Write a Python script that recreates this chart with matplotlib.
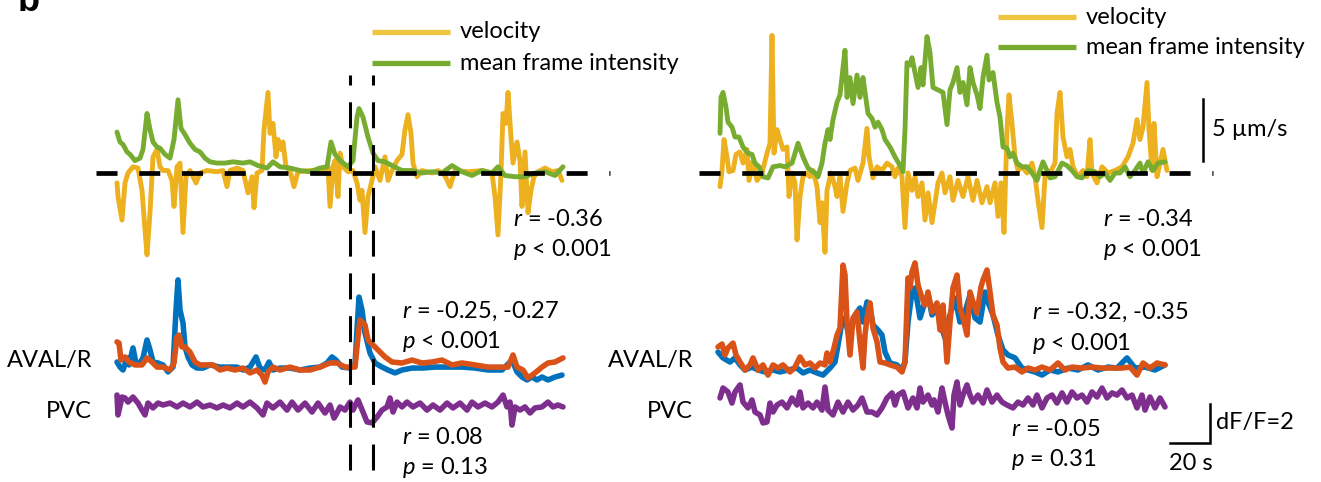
import numpy as np
import matplotlib
matplotlib.use("Agg")
import matplotlib.pyplot as plt

plt.rcParams["font.family"] = ["Lato", "DejaVu Sans"]
plt.rcParams["mathtext.fontset"] = "custom"
plt.rcParams["mathtext.rm"] = "Lato"
plt.rcParams["mathtext.it"] = "Lato:italic"

# ─── data: time in s, velocity in µm/s, intensity in a.u. (same scale), neurons in dF/F ───
# left recording
vel_L_t = [0, 0.5, 2.5, 4, 5.5, 8, 10.5, 12.5, 14, 15,
           16.5, 18, 20, 21.5, 23, 25.5, 27.5, 28.5, 30, 31.5,
           33, 34.5, 36.5, 39.5, 41.5, 45, 50, 53, 55, 56.5,
           60, 63, 65.5, 67.5, 68.5, 70, 72.5, 73.5, 75.5, 76.5,
           78, 79.5, 80.5, 82, 83, 84.5, 86.5, 88.5, 90.5, 96.5,
           103, 105.5, 106.5, 108, 109, 110.5, 111.5, 113, 115.5, 118,
           120, 121.5, 122.5, 124, 125.5, 127.5, 129, 131.5, 134, 135.5,
           137.5, 140, 142.5, 144, 145.5, 147, 148, 150, 152.5, 157.5,
           160.5, 164, 166.5, 169, 175.5, 182.5, 187.5, 189, 190.5, 192,
           193, 194.5, 195.5, 197, 198, 200, 201.5, 202.5, 204, 205.5,
           207, 208.5, 210.5, 214, 217.5, 220.5, 222.5]
vel_L = [-0.8, -1.9, -3.8, -0.8, 0.0, 0.5, 0.4, -1.4, -4.6, -6.6,
         -3.2, 1.3, 1.9, 0.5, 0.2, 0.2, -0.6, -2.7, 0.5, 0.8,
         -4.8, -0.3, 0.2, -0.8, 0.0, 0.2, 0.1, 0.2, -1.1, 0.2,
         0.4, 0.2, -1.6, -0.3, -2.8, 0.0, 0.2, 3.5, 6.5, 3.2,
         4.0, 1.3, 2.7, 1.9, 2.5, 0.5, 0.2, -1.1, 0.1, 0.2,
         0.1, 0.5, -2.7, 0.5, 1.0, -1.9, 1.6, 0.5, 0.1, 0.2,
         -0.8, -2.2, -1.4, -4.8, -1.9, -0.6, 0.5, -0.6, 1.3, -0.6,
         0.2, 1.0, 1.5, 3.5, 4.7, 3.2, 0.8, -0.3, 0.2, 0.0,
         0.2, -0.2, -1.1, 0.2, 0.1, 0.2, 0.0, -1.9, -5.0, 0.0,
         4.8, 4.0, 6.5, 2.9, 0.8, 2.5, 1.0, -2.7, 1.7, -3.2,
         -1.4, -0.3, 0.1, 0.4, 0.1, 0.2, -0.6]

int_L_t = [0, 1.5, 3, 5, 6.5, 9, 11.5, 13, 15, 16.5,
           18, 20, 21.5, 24, 26.5, 28.5, 30.5, 32, 34, 36.5,
           39, 41.5, 44, 46.5, 50, 54, 58, 63, 66.5, 70.5,
           75, 78, 81.5, 86.5, 91.5, 96.5, 101.5, 105, 107, 109,
           111.5, 115.5, 118, 120, 121, 123, 125.5, 128, 130.5, 134,
           137.5, 142.5, 147.5, 152.5, 157.5, 162.5, 167.5, 172.5, 177.5, 182.5,
           187.5, 190.5, 194, 199, 204, 209, 214, 219, 223]
int_L = [3.3, 2.5, 2.3, 1.7, 1.5, 1.0, 1.2, 1.9, 4.8, 3.5,
         2.5, 2.1, 2.0, 1.5, 1.2, 2.7, 5.9, 3.6, 3.1, 2.4,
         1.9, 1.7, 1.2, 0.9, 0.8, 0.8, 0.9, 0.8, 0.9, 0.6,
         0.4, 0.9, 0.5, 0.4, 0.2, 0.1, 0.4, 0.5, 2.5, 1.5,
         1.0, 0.5, 1.0, 4.5, 5.2, 4.5, 2.9, 1.6, 1.0, 0.9,
         0.6, 0.2, 0.2, 0.0, 0.1, 0.0, 0.6, 0.1, -0.2, 0.2,
         0.0, 0.5, -0.2, -0.3, -0.3, 0.0, 0.1, -0.2, 0.5]

aval_L_t = [0, 1.5, 3, 5, 6, 8, 9.5, 11.5, 13, 15,
            16.5, 18, 20.5, 23, 25.5, 28, 29.5, 30.5, 31.5, 33,
            34, 35.5, 37.5, 40, 43, 46.5, 51.5, 56.5, 60, 63,
            66.5, 69.5, 71.5, 74, 76, 78, 81.5, 86.5, 91.5, 96.5,
            101.5, 105, 107.5, 109.5, 112.5, 116.5, 119, 120, 121, 122.5,
            124, 126.5, 129, 132.5, 135.5, 139, 142.5, 147.5, 152.5, 159,
            165.5, 172.5, 179, 185.5, 192.5, 197.5, 200, 202.5, 205, 207.5,
            210, 212.5, 215.5, 219, 222.5]
aval_L = [0.41, 0.15, 0, 0.62, 0.26, 1.13, 0.36, 0.36, 0.62, 1.54,
          1.03, 0.41, 0.36, 0.26, -0.10, 0.15, 3.08, 4.62, 3.08, 2.41,
          1.18, 0.67, 0.26, 0.10, 0.10, 0.26, 0.15, 0.15, 0.15, 0,
          0.15, 0.67, 0.10, 0, 0.41, 0, 0.10, 0.10, 0, 0.10,
          0.15, 0.36, 0.67, 0.51, 0.15, 0.10, 0.26, 2.05, 3.74, 3.08,
          1.90, 0.87, 0.36, 0.15, 0, -0.15, 0, 0.10, 0.10, 0.15,
          0.15, 0.15, 0.10, 0, 0, 0.51, -0.10, -0.36, -0.51, -0.36,
          -0.51, -0.36, -0.51, -0.36, -0.26]

avar_L_t = [0, 1, 2, 4, 6, 9, 12.5, 15, 17.5, 20,
            23, 26.5, 28.5, 30, 31, 32.5, 34, 36.5, 39, 41.5,
            45, 48, 51.5, 55, 59, 63, 66.5, 70, 72.5, 74,
            75.5, 78, 81.5, 86.5, 91.5, 96.5, 101.5, 106.5, 110, 114,
            119, 120.5, 121.5, 124, 125.5, 128, 130.5, 134, 137.5, 142.5,
            147.5, 152.5, 157.5, 162.5, 167.5, 172.5, 179, 185.5, 192.5, 195.5,
            198, 200, 203, 205.5, 209, 212.5, 215.5, 219, 223]
avar_L = [1.44, 1.38, 0.51, 0.67, 0.41, 0.26, 0.26, 0.62, 0.41, 0.15,
          0.15, 0, 0.36, 1.69, 1.79, 1.18, 1.18, 0.92, 0.41, 0.26,
          0.26, 0.26, 0, 0.10, 0, 0.10, -0.15, 0, -0.26, -0.62,
          -0.10, 0.15, 0, 0.15, 0, 0, 0.15, 0.36, 0.36, 0.15,
          0.15, 1.69, 2.56, 2.31, 1.54, 1.28, 1.03, 0.67, 0.41, 0.36,
          0.51, 0.36, 0.41, 0.51, 0.26, 0.36, 0.26, 0.15, 0.15, 0.15,
          0.77, 0.15, 0, -0.41, -0.15, 0.15, 0.36, 0.41, 0.62]

pvc_L_t = [0, 0.5, 2.5, 4, 5.5, 8, 10.5, 12.5, 14, 15.5,
           18, 20.5, 23, 26.5, 30, 33, 36.5, 40, 43, 46.5,
           50, 53, 56.5, 60, 63, 66.5, 70, 73, 75, 78,
           81.5, 85, 87.5, 90.5, 94, 97.5, 100.5, 104, 106.5, 108.5,
           110, 111.5, 114, 116.5, 118, 120.5, 123, 125, 127.5, 130,
           132.5, 135, 136.5, 138, 140, 142.5, 145, 148, 151.5, 155,
           158, 161.5, 165, 168, 171.5, 175, 177.5, 180.5, 184, 187.5,
           190.5, 193, 195, 196.5, 197.5, 199, 201.5, 204, 206.5, 209,
           212.5, 215.5, 218, 220.5, 223]
pvc_L = [0.51, -0.51, 0.41, 0.36, 0.15, 0.41, 0.10, -0.26, -0.51, 0.10,
         -0.15, 0.10, 0, 0.10, -0.10, 0.10, -0.10, 0.15, -0.10, 0,
         -0.15, 0, -0.15, 0.10, -0.10, 0.15, -0.15, -0.51, 0.10, -0.15,
         0.15, -0.26, 0.15, -0.26, 0.10, -0.36, 0.10, -0.41, 0, -0.67,
         -0.41, -0.10, -0.26, 0.15, -0.26, 0.26, -0.36, -0.87, -0.92, -0.62,
         -0.26, -0.10, 0.36, -0.36, 0.15, -0.10, 0.15, -0.10, 0.10, -0.26,
         0, -0.26, 0.10, -0.15, 0.10, -0.26, 0.15, -0.10, 0.10, -0.10,
         0.15, 0.51, -0.10, 0.15, -1.03, -0.10, -0.26, -0.10, -0.41, -0.15,
         -0.10, 0.15, -0.10, 0, -0.10]

# right recording
vel_R_t = [1, 2, 3, 4.5, 5.5, 7.5, 9, 11, 12.5, 14.5,
           15.5, 17.5, 19.5, 22, 24.5, 26, 27, 28, 29.5, 31,
           32.5, 34.5, 35.5, 37, 38.5, 39.5, 41, 42.5, 44.5, 46,
           47.5, 49.5, 51, 52, 53.5, 54.5, 56.5, 58.5, 59.5, 61,
           62.5, 64.5, 66, 68.5, 70, 72.5, 74.5, 75.5, 77.5, 79.5,
           82, 84.5, 87, 88.5, 90, 92, 93.5, 95, 97, 98.5,
           100, 102, 103.5, 105, 107, 108.5, 110, 112, 113.5, 116,
           117.5, 120, 122.5, 125, 127.5, 129.5, 132, 134.5, 136, 138.5,
           140, 141.5, 143, 144.5, 145.5, 147, 148.5, 150, 152, 154.5,
           157, 158.5, 160, 162, 163.5, 166, 168.5, 169.5, 171, 172.5,
           174.5, 176, 177.5, 180, 182.5, 184.5, 186, 187, 189.5, 192,
           195, 198.5, 202, 205, 207.5, 209.5, 211, 212.5, 214.5, 215.5,
           217, 218, 219.5, 221, 222.5, 224.5]
vel_R = [-1.1, 0.2, 2.7, 1.3, 0.1, 0.2, 1.5, 1.7, 0.8, 1.9,
         -0.6, 1.0, -0.6, 0, 1.6, 2.4, 11.1, 1.6, 3.5, 2.7,
         1.9, 2.1, -1.9, 0, -0.8, -5.4, -1.9, -0.3, 0, -0.3,
         0.2, -1.1, -4.0, -2.4, -6.4, -1.4, 0, -1.1, -1.9, -0.3,
         -3.1, -0.8, 0.2, 0.4, -0.6, 0.8, 3.6, 1.3, -0.4, 0.5,
         0.2, 0.8, 0.5, -0.3, 0.4, -0.3, -4.4, 0, -1.4, -0.3,
         -1.9, -0.8, -3.8, -1.6, -4.0, -2.4, -0.8, 0, -1.6, -0.3,
         -2.2, -0.6, -1.9, -0.3, -2.2, -0.6, -2.4, -1.1, -2.4, -0.8,
         -3.5, -0.8, -4.8, 3.5, 6.3, 4.0, 1.3, 0.2, 0.5, 0,
         0.8, -0.3, -2.2, -4.4, -0.3, 0, 0.8, 4.8, 6.5, 2.9,
         1.3, 1.9, 0.5, -0.3, 0.2, -0.3, 2.7, 0, -0.8, 0.5,
         0, 0.2, 0.5, 1.3, 2.4, 4.3, 2.7, 3.7, 7.3, 3.5,
         0.2, 4.0, -0.3, 0.8, 1.9, 0.2]

int_R_t = [1, 1.5, 2.5, 4, 5, 7, 8.5, 10.5, 12.5, 15,
           17, 18.5, 20.5, 22.5, 25, 27.5, 31, 33.5, 37, 40,
           42.5, 45, 48.5, 50, 52, 53.5, 55, 56, 57.5, 59.5,
           61, 62.5, 63.5, 64.5, 66, 67.5, 69.5, 71, 72.5, 73.5,
           75, 77, 78.5, 80, 82, 83.5, 86, 88.5, 91, 92.5,
           93.5, 94.5, 96, 97, 98.5, 100, 101.5, 102.5, 104.5, 106,
           107.5, 110, 112.5, 114.5, 116, 117.5, 119.5, 121, 122.5, 124.5,
           126, 127.5, 129.5, 131, 132.5, 134.5, 135.5, 137.5, 139.5, 141,
           142.5, 144.5, 146, 147.5, 149.5, 152, 154.5, 157, 159.5, 161,
           162.5, 164.5, 166, 168.5, 172, 174.5, 177, 179.5, 182, 185,
           188.5, 191, 193.5, 196, 198.5, 201, 203.5, 206, 208.5, 211,
           212.5, 215, 217.5, 220, 223.5]
int_R = [3.2, 6.1, 6.5, 5.3, 4.1, 3.7, 2.9, 2.9, 2.1, 1.6,
         1.5, 0.8, 0.5, -0.3, -0.4, 0.5, 0.6, 0.5, 0.8, 2.4,
         1.3, 0.4, 0, -0.3, 0.8, 2.4, 3.5, 2.7, 4.3, 5.7,
         6.3, 8.5, 9.9, 6.1, 7.7, 5.6, 7.9, 6.1, 7.7, 6.5,
         4.8, 4.4, 3.7, 4.1, 3.5, 2.7, 2.1, 1.3, 0.6, 0.1,
         3.5, 8.9, 8.7, 9.3, 8.1, 6.9, 8.5, 7.1, 11.0, 9.7,
         6.9, 6.7, 6.5, 3.9, 6.7, 7.3, 8.5, 6.5, 7.3, 5.5,
         8.5, 7.3, 6.3, 5.2, 7.7, 9.5, 7.5, 8.1, 5.7, 4.5,
         2.1, 2.0, 1.3, 1.6, 0.8, 0.5, 0.5, 0, -0.6, 0.2,
         0.9, 0.2, -0.4, -0.3, 0.8, 0.6, 0.2, -0.3, -0.4, 0.2,
         0.1, -0.3, 0, -0.6, 0, 0, 0.5, -0.3, 0.2, 0.8,
         0, 0.9, 0.2, 0.8, 0.9]

aval_R_t = [0, 2.5, 6, 8.5, 11, 13.5, 17, 20, 23.5, 27.5,
            31, 35, 39.5, 42.5, 46, 49.5, 52.5, 56, 58.5, 60,
            62, 63.5, 65, 67, 69.5, 71, 72.5, 74.5, 76, 77.5,
            80, 82, 83.5, 86, 89.5, 92, 93.5, 95, 97, 98.5,
            101, 103.5, 105, 107, 109.5, 111, 113.5, 116, 118.5, 121,
            123.5, 126, 128.5, 131, 133.5, 135, 137.5, 140, 142.5, 145,
            148.5, 152, 155, 158.5, 162, 166, 170, 175, 180, 185,
            190, 195, 199.5, 204.5, 208.5, 213.5, 218.5, 223.5]
aval_R = [0.92, 0.62, 0.41, 0.62, 0.26, 0, 0.15, 0, -0.10, 0,
          -0.10, 0, 0.10, -0.15, 0, -0.15, -0.26, 0.10, 0.41, 1.28,
          2.46, 2.67, 1.95, 2.46, 2.97, 3.18, 2.46, 3.49, 3.18, 2.31,
          2.05, 1.79, 0.92, 0.36, 0.26, 0, 0.41, 2.46, 4.00, 4.21,
          2.67, 3.49, 3.85, 2.82, 3.18, 2.46, 1.64, 2.82, 3.69, 2.46,
          2.97, 3.85, 2.67, 2.46, 4.00, 3.49, 2.82, 1.79, 1.03, 0.77,
          0.62, 0.10, 0, -0.10, -0.26, 0, -0.10, 0.10, 0, 0.26,
          0, 0.15, 0.10, 0.62, 0.10, 0.15, 0, 0.26]

avar_R_t = [0, 2, 3.5, 5, 7.5, 9, 11, 13.5, 16, 17.5,
            20, 22.5, 25, 27.5, 30, 32.5, 36, 38.5, 41, 43.5,
            46, 48.5, 51, 53.5, 54.5, 56, 58, 59.5, 61, 62.5,
            63.5, 64.5, 66, 67.5, 69.5, 71, 72.5, 73.5, 74.5, 76,
            77.5, 79.5, 81, 83.5, 86, 89.5, 92, 93.5, 95, 96,
            97, 98.5, 100, 102, 103.5, 105, 107, 109.5, 111, 112.5,
            114.5, 116, 117.5, 119.5, 121, 122.5, 124.5, 126, 127.5, 129.5,
            131.5, 132.5, 134.5, 136, 137.5, 139.5, 141, 142.5, 145, 148.5,
            152, 155, 158.5, 162, 166, 170, 173.5, 177, 182, 187,
            192, 197, 202, 206, 209.5, 212.5, 216, 219.5, 223.5]
avar_R = [1.18, 1.33, 0.77, 1.13, 1.38, 0.77, 0.41, 0, 0.26, 0.62,
          0, 0.26, -0.26, 0.26, 0.10, 0.26, -0.10, 0.15, 0.67, 0.26,
          0.36, 0.10, 0.36, 0.26, 0.87, 0.41, 1.13, 1.79, 2.15, 5.38,
          4.87, 2.46, 0.77, 2.67, 2.97, 1.44, 0.10, 1.79, 2.67, 3.44,
          2.15, 1.44, 0.41, 0.36, 0.26, 0.15, -0.10, 0.41, 4.72, 4.21,
          5.03, 5.49, 4.36, 3.69, 3.33, 4.00, 2.97, 3.44, 2.05, 3.33,
          0.41, 2.46, 4.21, 4.87, 3.18, 2.67, 1.79, 4.00, 3.49, 2.92,
          4.26, 4.62, 5.13, 4.00, 2.82, 2.31, 1.13, 0.41, 0.10, 0.15,
          -0.10, 0.10, 0, 0.15, 0, 0.36, 0, 0.15, 0.10, 0.15,
          0.10, 0.10, 0.10, 0.15, -0.26, 0.36, 0.10, 0.36, 0.26]

pvc_R_t = [1, 2.5, 5, 7, 8.5, 11, 12.5, 15, 17, 18.5,
           21, 22.5, 24.5, 26, 27.5, 29.5, 32, 34.5, 37, 39.5,
           41, 42.5, 45, 47.5, 49.5, 52, 53.5, 55, 57.5, 60,
           62.5, 65, 67.5, 70, 72, 74.5, 77, 79.5, 82, 84.5,
           87, 88.5, 90, 92.5, 95, 97.5, 99.5, 101, 102.5, 105,
           107, 108, 110, 112, 113.5, 115, 117, 118, 119.5, 121,
           122.5, 124.5, 126, 127.5, 130, 132.5, 134.5, 137, 139.5, 142,
           144.5, 147.5, 150, 152.5, 155, 157.5, 159.5, 162, 164.5, 167,
           169.5, 172, 174.5, 177, 179.5, 182, 184.5, 187, 189.5, 192,
           194.5, 197, 199.5, 202, 204.5, 207, 209.5, 212, 213.5, 216,
           218.5, 221, 223.5]
pvc_R = [0.36, 0.87, 0.67, 0.10, 0.67, 1.03, 0.15, -0.15, 0.26, -0.36,
         -0.51, -0.92, -0.87, 0.10, -0.36, 0, 0.15, -0.15, 0.36, 0,
         0.67, -0.15, 0.10, -0.15, 0.15, -0.26, 0.92, -0.26, -0.51, 0.15,
         -0.36, 0.15, -0.26, 0, 0.36, -0.36, -0.36, -0.51, -0.15, 0.36,
         0.62, 0, 0.51, 0.67, -0.15, 0.36, -0.15, 0.87, 0.15, 0.51,
         0, 0.26, -0.36, 0.87, 0.15, -0.51, -1.18, 0.51, 1.18, 0,
         0.51, 1.03, 0.51, 0.15, 0.51, 0.10, 0.77, 0.15, 0.51, 0.15,
         0, -0.15, 0.15, 0, 0.36, 0, 0.51, -0.15, 0.36, 0.51,
         0.10, 0.62, 0.15, 0.67, 0.36, 0.51, 0.15, 0.67, 0.41, 0.87,
         0.36, 0.62, 0.51, 0.77, 0.36, 0.51, -0.15, 0.51, -0.26, 0.41,
         -0.15, 0.36, -0.10]

stats_L = ["$r$ = -0.36", "$p$ < 0.001", "$r$ = -0.25, -0.27", "$p$ < 0.001",
           "$r$ = 0.08", "$p$ = 0.13"]
stats_R = ["$r$ = -0.34", "$p$ < 0.001", "$r$ = -0.32, -0.35", "$p$ < 0.001",
           "$r$ = -0.05", "$p$ = 0.31"]
event_t = [116.5, 128]   # dashed window on the left recording (s)

# ─── layout (pixels of the 1321x482 canvas) ───
W, H = 1321, 482
PX_S = 2.0        # px per second
PX_VEL = 12.4     # px per µm/s
PX_DFF = 19.5     # px per dF/F
Y_VEL, Y_AVA, Y_PVC = 173, 370, 405

C_VEL, C_INT = "#EDB120", "#77AC30"
C_AVAL, C_AVAR, C_PVC = "#0072BD", "#D95319", "#7E2F8E"
FS = 17

fig = plt.figure(figsize=(W / 100, H / 100), dpi=100)
ax = fig.add_axes([0, 0, 1, 1])
ax.set_xlim(0, W)
ax.set_ylim(H, 0)
ax.axis("off")


def trace(x0, y0, scale, t, v, color, lw):
    ax.plot(x0 + PX_S * np.asarray(t), y0 - scale * np.asarray(v),
            color=color, lw=lw, solid_joinstyle="round", solid_capstyle="round")


panels = [
    (117, 96, vel_L_t, vel_L, int_L_t, int_L, aval_L_t, aval_L, avar_L_t, avar_L,
     pvc_L_t, pvc_L, stats_L, 513),
    (718, 699, vel_R_t, vel_R, int_R_t, int_R, aval_R_t, aval_R, avar_R_t, avar_R,
     pvc_R_t, pvc_R, stats_R, 1103),
]

for (x0, xd, vt, v, it, iv, at, av, rt, rv, pt, pv, st, xs1) in panels:
    trace(x0, Y_VEL, PX_VEL, vt, v, C_VEL, 3.5)
    trace(x0, Y_VEL, PX_VEL, it, iv, C_INT, 3.5)
    # zero line
    ax.plot([xd, xd + 514], [Y_VEL, Y_VEL], color="k", lw=3.4,
            linestyle=(0, (4.45, 4.6)), solid_capstyle="butt")
    trace(x0, Y_AVA, PX_DFF, at, av, C_AVAL, 4.0)
    trace(x0, Y_AVA, PX_DFF, rt, rv, C_AVAR, 4.0)
    trace(x0, Y_PVC, PX_DFF, pt, pv, C_PVC, 4.0)
    ax.text(x0 - 25, 360, "AVAL/R", ha="right", va="center", fontsize=FS)
    ax.text(x0 - 25, 411, "PVC", ha="right", va="center", fontsize=FS)
    ax.text(xs1, 219, st[0], ha="left", va="center", fontsize=FS)
    ax.text(xs1, 249, st[1], ha="left", va="center", fontsize=FS)

x0L = panels[0][0]
ax.text(402, 311, stats_L[2], ha="left", va="center", fontsize=FS)
ax.text(402, 341, stats_L[3], ha="left", va="center", fontsize=FS)
ax.text(402, 437, stats_L[4], ha="left", va="center", fontsize=FS)
ax.text(402, 467, stats_L[5], ha="left", va="center", fontsize=FS)
ax.text(1032, 312, stats_R[2], ha="left", va="center", fontsize=FS)
ax.text(1032, 343, stats_R[3], ha="left", va="center", fontsize=FS)
ax.text(1011, 429, stats_R[4], ha="left", va="center", fontsize=FS)
ax.text(1011, 459, stats_R[5], ha="left", va="center", fontsize=FS)

# event window
for te in event_t:
    xe = x0L + PX_S * te
    ax.plot([xe, xe], [470, 75], color="k", lw=2.2,
            linestyle=(0, (8.5, 5.5)), solid_capstyle="butt")

# legends
for (lx, ly1, ly2) in [(372, 32, 63), (998, 17, 47)]:
    ax.plot([lx, lx + 78], [ly1, ly1], color="#EDC53F", lw=3.8, solid_capstyle="butt")
    ax.plot([lx, lx + 78], [ly2, ly2], color=C_INT, lw=3.8, solid_capstyle="butt")
    ax.text(lx + 88, ly1, "velocity", ha="left", va="center", fontsize=FS)
    ax.text(lx + 88, ly2, "mean frame intensity", ha="left", va="center", fontsize=FS)

# scale bars
ax.plot([1203, 1203], [161, 161 - 5 * PX_VEL], color="k", lw=1.8)
ax.text(1212, 130, "5 µm/s", ha="left", va="center", fontsize=FS)
ax.plot([1210 - 20 * PX_S, 1210, 1210], [443, 443, 443 - 2 * PX_DFF],
        color="k", lw=1.8, solid_joinstyle="miter")
ax.text(1216, 423, "dF/F=2", ha="left", va="center", fontsize=FS)
ax.text(1191, 463, "20 s", ha="center", va="center", fontsize=FS)

ax.text(18, 11, "b", ha="left", va="baseline", fontsize=26, fontweight="bold",
        family=["Liberation Sans", "DejaVu Sans"])

fig.savefig("out.png", dpi=100)
